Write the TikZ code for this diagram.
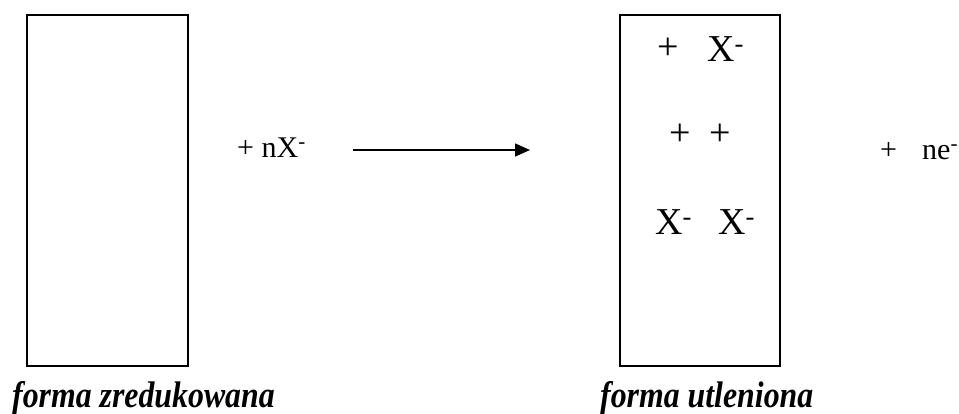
\documentclass[tikz,border=0pt]{standalone}
\usepackage{fontspec}
\usepackage{graphicx}
\setmainfont{Liberation Serif}
\usetikzlibrary{arrows.meta}
\tikzset{
  boxform/.style={draw, line width=2pt, minimum width=161pt, minimum height=351pt, inner sep=0pt},
  txt/.style={inner sep=0pt, anchor=base west},
  ion/.style={txt, font=\fontsize{38}{42}\selectfont},
  eq/.style={txt, font=\fontsize{30}{34}\selectfont},
  lbl/.style={txt, font=\fontsize{37}{40}\selectfont\bfseries\itshape},
  arr/.style={-{Triangle[length=15pt,width=13pt]}, line width=1.5pt}
}
\newcommand{\sm}{\textsuperscript{-}}
\newcommand{\cond}[1]{\scalebox{0.86}[1]{#1}}
\begin{document}
\begin{tikzpicture}[x=1pt,y=-1pt]
\useasboundingbox (0,0) rectangle (959,414);
\node[boxform] (red) at (107.5,190.5) {};
\node[boxform, minimum width=160pt] (ox) at (700,190.5) {};
\node[eq] (reag) at (237,158) {+ nX\sm};
\coordinate (a1) at (353,150);
\coordinate (a2) at (530,150);
\draw[arr] (a1) -- (a2);
\node[ion] (p1) at (657,60) {+};
\node[ion] (x1) at (707,62) {X\sm};
\node[ion] (p2) at (669,146) {+};
\node[ion] (p3) at (709,146) {+};
\node[ion] (x2) at (655,235) {X\sm};
\node[ion] (x3) at (718,235) {X\sm};
\node[eq] (p4) at (880,160) {+};
\node[eq] (ne) at (922,160) {ne\sm};
\node[lbl] (l1) at (12,407) {\cond{forma zredukowana}};
\node[lbl] (l2) at (600,407) {\cond{forma utleniona}};
\end{tikzpicture}
\end{document}
